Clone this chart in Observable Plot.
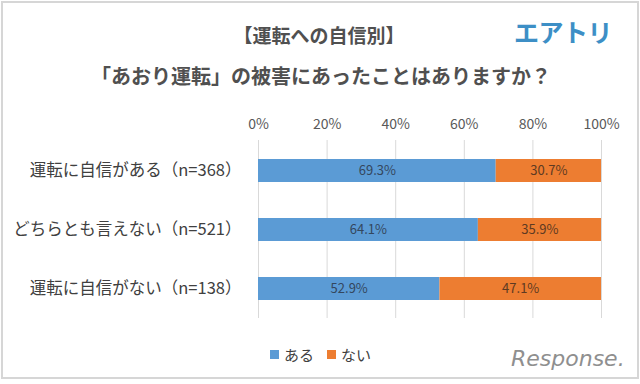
<!DOCTYPE html>
<html>
<head>
<meta charset="utf-8">
<script src="https://cdn.jsdelivr.net/npm/d3@7"></script>
<script src="https://cdn.jsdelivr.net/npm/@observablehq/plot@0.6"></script>
<style>
  html, body { margin: 0; padding: 0; background: #fff; }
  body { width: 640px; height: 384px; position: relative; overflow: hidden; font-family: "Noto Sans CJK JP", sans-serif; }
  #frame { position: absolute; left: 1px; top: 1px; width: 634px; height: 374px; border: 2px solid #d6d6d6; }
  #chart { position: absolute; left: 0; top: 0; }
  .t { position: absolute; white-space: nowrap; line-height: 1; }
  #title1 { left: 0; width: 638px; text-align: center; top: 25px; font-size: 19px; font-weight: bold; color: #505050; }
  #title2 { left: 0; width: 642px; text-align: center; top: 66px; font-size: 20px; font-weight: bold; color: #505050; }
  #logo1 { left: 514px; top: 19px; font-size: 25px; font-weight: bold; color: #3d8fc6; letter-spacing: -0.5px; }
  #logo2 { left: 511px; top: 348px; font-size: 22px; color: #8f8f8f; font-family: "DejaVu Sans", sans-serif; font-style: italic; letter-spacing: 0px; }
  #legend { position: absolute; left: 270px; top: 344px; font-size: 15px; color: #404040; display: flex; align-items: center; }
  .sw { display: inline-block; width: 9px; height: 9px; margin-right: 5px; }
  .item { display: flex; align-items: center; margin-right: 13px; }
</style>
</head>
<body>
<div id="frame"></div>
<div id="chart"></div>
<div class="t" id="title1">【運転への自信別】</div>
<div class="t" id="title2">「あおり運転」の被害にあったことはありますか？</div>
<div class="t" id="logo1">エアトリ</div>
<div class="t" id="logo2">Response.</div>
<div id="legend"></div>
<script>
const categories = ["運転に自信がある（n=368）", "どちらとも言えない（n=521）", "運転に自信がない（n=138）"];
const seriesNames = ["ある", "ない"];
const aruValues = [69.3, 64.1, 52.9];
const naiValues = [30.7, 35.9, 47.1];
const xTicks = [0, 20, 40, 60, 80, 100];
const colors = ["#5b9bd5", "#ed7d31"];
const labelColors = ["#34475e", "#5e3a22"];

const data = [];
categories.forEach((c, i) => {
  data.push({category: c, series: seriesNames[0], value: aruValues[i]});
  data.push({category: c, series: seriesNames[1], value: naiValues[i]});
});

const chart = Plot.plot({
  width: 640,
  height: 384,
  marginTop: 140,
  marginBottom: 66,
  marginLeft: 258,
  marginRight: 39,
  style: {fontFamily: "'Noto Sans CJK JP', sans-serif", background: "transparent"},
  x: {domain: [0, 100], axis: null},
  y: {domain: categories, padding: 0, axis: null},
  color: {domain: seriesNames, range: colors},
  marks: [
    Plot.gridX(xTicks, {stroke: "#d9d9d9", strokeOpacity: 1, strokeWidth: 1}),
    Plot.axisX(xTicks, {anchor: "top", label: null, tickSize: 0, tickPadding: 12, tickFormat: d => d + "%", fontSize: 14, fill: "#595959"}),
    Plot.axisY({label: null, tickSize: 0, tickPadding: 17, fontSize: 16.5, fill: "#404040"}),
    Plot.barX(data, {x: "value", y: "category", fill: "series", insetTop: 18, insetBottom: 18}),
    Plot.text(data, Plot.stackX({x: "value", y: "category", z: "series", text: d => d.value.toFixed(1) + "%", fill: d => labelColors[seriesNames.indexOf(d.series)], fontSize: 13}))
  ]
});
document.getElementById("chart").appendChild(chart);

const legend = document.getElementById("legend");
seriesNames.forEach((s, i) => {
  const item = document.createElement("span");
  item.className = "item";
  const sw = document.createElement("span");
  sw.className = "sw";
  sw.style.background = colors[i];
  item.appendChild(sw);
  item.appendChild(document.createTextNode(s));
  legend.appendChild(item);
});
</script>
</body>
</html>
